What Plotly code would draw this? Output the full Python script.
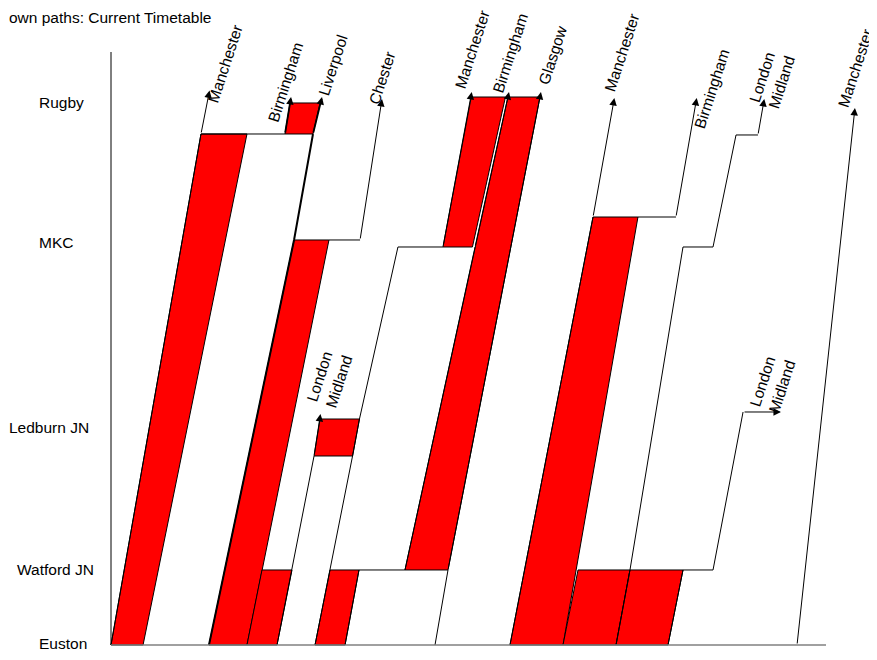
import plotly.graph_objects as go

# Standard-hour path diagram: t = minutes past the hour, d = schematic position (Euston 0 .. Rugby 100)
stations = ["Euston", "Watford JN", "Ledburn JN", "MKC", "Rugby"]
station_d = [0.36, 13.69, 39.78, 73.54, 98.91]

# ---- red (reserved) path blocks: corner times / positions ----
blk_man1_t = [0.00, 2.69, 11.41, 7.55]
blk_man1_d = [0, 0, 93.25, 93.25]
blk_birm1_t = [14.60, 16.95, 17.54, 15.02]
blk_birm1_d = [93.25, 93.25, 98.91, 98.91]
blk_liv_t = [8.22, 11.41, 18.29, 15.36]
blk_liv_d = [0, 0, 73.91, 73.91]
blk_lm1a_t = [11.41, 13.93, 15.19, 12.67]
blk_lm1a_d = [0, 0, 13.69, 13.69]
blk_lm1b_t = [17.04, 20.27, 20.85, 17.54]
blk_lm1b_d = [34.49, 34.49, 41.24, 41.24]
blk_man2a_t = [17.12, 19.64, 20.81, 18.38]
blk_man2a_d = [0, 0, 13.69, 13.69]
blk_man2b_t = [27.86, 30.33, 33.10, 30.23]
blk_man2b_d = [72.63, 72.63, 100, 100]
blk_glas_t = [24.67, 28.28, 36.00, 33.31]
blk_glas_d = [13.69, 13.69, 100, 100]
blk_man3_t = [33.48, 37.93, 44.22, 40.45]
blk_man3_d = [0, 0, 78.10, 78.10]
blk_lm2_t = [37.93, 42.38, 43.55, 39.19]
blk_lm2_d = [0, 0, 13.69, 13.69]
blk_lm3_t = [42.38, 46.74, 48.00, 43.55]
blk_lm3_d = [0, 0, 13.69, 13.69]

# ---- train lines: points, arrow tip ----
man1_t = [0.00, 7.55];  man1_d = [0, 93.25];  man1_tip = (8.27, 101.19)
birm1_t = [7.55, 14.60];  birm1_d = [93.25, 93.25];  birm1_tip = (15.11, 100.0)
liv_t = [8.22, 15.36, 16.95];  liv_d = [0, 73.91, 93.25];  liv_tip = (17.71, 100.0)
ches_t = [18.29, 20.90];  ches_d = [73.91, 73.91];  ches_tip = (22.74, 99.64)
lm1_t = [13.93, 15.19, 17.04];  lm1_d = [0, 13.69, 34.49];  lm1_tip = (17.58, 42.15)
man2_t = [17.12, 18.38, 20.27, 20.85, 24.08, 27.86]
man2_d = [0, 13.69, 34.49, 41.24, 72.63, 72.63];  man2_tip = (30.27, 100.91)
birm2_t = [19.64, 20.81, 24.67, 30.55];  birm2_d = [0, 13.69, 13.69, 72.63];  birm2_tip = (33.40, 100.91)
glas_t = [27.19, 28.28];  glas_d = [0, 13.69];  glas_tip = (36.08, 100.91)
man3_t = [33.48, 40.45];  man3_d = [0, 78.10];  man3_tip = (42.24, 99.82)
birm3_t = [44.22, 47.41];  birm3_d = [78.10, 78.10];  birm3_tip = (49.15, 99.82)
lm2_t = [42.38, 43.55, 48.00, 50.52, 52.45, 54.29]
lm2_d = [0, 13.69, 72.63, 72.63, 93.07, 93.07];  lm2_tip = (54.82, 99.64)
lm3_t = [46.74, 48.00, 50.52, 53.04];  lm3_d = [0, 13.69, 13.69, 42.52];  lm3_tip = (56.22, 42.52)
man4_t = [57.57];  man4_d = [0];  man4_tip = (62.43, 98.0)

blocks = [(blk_man1_t, blk_man1_d), (blk_birm1_t, blk_birm1_d), (blk_liv_t, blk_liv_d),
          (blk_lm1a_t, blk_lm1a_d), (blk_lm1b_t, blk_lm1b_d), (blk_man2a_t, blk_man2a_d),
          (blk_man2b_t, blk_man2b_d), (blk_glas_t, blk_glas_d), (blk_man3_t, blk_man3_d),
          (blk_lm2_t, blk_lm2_d), (blk_lm3_t, blk_lm3_d)]

# (t, d, tip, label, line width, arrow width, label shift px (x, y))
trains = [
    (man1_t, man1_d, man1_tip, "Manchester", 1, 1, (16, 26.5)),
    (birm1_t, birm1_d, birm1_tip, "Birmingham", 1, 1.8, (-5.2, 15.3)),
    (liv_t, liv_d, liv_tip, "Liverpool", 2, 1.8, (10.5, 32)),
    (ches_t, ches_d, ches_tip, "Chester", 1, 1, (-0.3, 20.7)),
    (lm1_t, lm1_d, lm1_tip, "London<br>Midland", 1, 1, (8.7, 35.7)),
    (man2_t, man2_d, man2_tip, "Manchester", 1, 1, (0.6, 42.3)),
    (birm2_t, birm2_d, birm2_tip, "Birmingham", 1, 1, (1, 38.7)),
    (glas_t, glas_d, glas_tip, "Glasgow", 1, 1, (11.3, 37)),
    (man3_t, man3_d, man3_tip, "Manchester", 1, 1, (7.4, 45.7)),
    (birm3_t, birm3_d, birm3_tip, "Birmingham", 1, 1, (15.6, 9)),
    (lm2_t, lm2_d, lm2_tip, "London<br>Midland", 1, 1, (8.2, 20)),
    (lm3_t, lm3_d, lm3_tip, "London<br>Midland", 1, 1, (-8.3, 28)),
    (man4_t, man4_d, man4_tip, "Manchester", 1, 1, (1.0, 40)),
]

FONT = "Liberation Sans, Arial, sans-serif"
fig = go.Figure()

for bt, bd in blocks:
    fig.add_trace(go.Scatter(x=bt + [bt[0]], y=bd + [bd[0]], mode="lines", fill="toself",
                             fillcolor="#FF0000", line=dict(color="black", width=1),
                             hoverinfo="skip", showlegend=False))

annotations = []
for t, d, tip, label, w, aw, (sx, sy) in trains:
    if len(t) > 1:
        fig.add_trace(go.Scatter(x=t, y=d, mode="lines", line=dict(color="black", width=w),
                                 hoverinfo="skip", showlegend=False))
    annotations.append(dict(x=tip[0], y=tip[1], ax=t[-1], ay=d[-1], xref="x", yref="y",
                            axref="x", ayref="y", text="", showarrow=True, arrowhead=2,
                            arrowsize=1.5 / aw, arrowwidth=aw, arrowcolor="black",
                            standoff=0))
    annotations.append(dict(x=tip[0], y=tip[1], xref="x", yref="y", xshift=sx, yshift=sy,
                            text=label, showarrow=False, textangle=-72, align="left",
                            xanchor="center", yanchor="middle",
                            font=dict(family=FONT, size=15.5, color="black")))

# axes drawn as lines
fig.add_trace(go.Scatter(x=[0, 0], y=[108.21, 0], mode="lines", line=dict(color="black", width=1),
                         hoverinfo="skip", showlegend=False))
fig.add_trace(go.Scatter(x=[0, 60], y=[0, 0], mode="lines", line=dict(color="#808080", width=1.3),
                         hoverinfo="skip", showlegend=False))

# page has an 8 px body margin: figure occupies page pixels 8..877 x 8..660
W, H, OFF = 869, 652, 8
label_px = [63, 55.5, 48.5, 55.5, 61]
for name, d, px in zip(stations, station_d, label_px):
    annotations.append(dict(x=(px - OFF) / W, y=d, xref="paper", yref="y", text=name, showarrow=False,
                            xanchor="center", yanchor="middle",
                            font=dict(family=FONT, size=15.5, color="black")))

annotations.append(dict(x=0, y=1, xref="paper", yref="paper", text="own paths: Current Timetable",
                        showarrow=False, xanchor="left", yanchor="top", borderpad=0,
                        font=dict(family=FONT, size=15.5, color="black")))

fig.update_layout(
    width=W, height=H, margin=dict(l=0, r=0, t=0, b=0, pad=0),
    paper_bgcolor="white", plot_bgcolor="white",
    xaxis=dict(range=[-8.6434, 64.2797], visible=False, fixedrange=True),
    yaxis=dict(range=[-2.7372, 116.2409], visible=False, fixedrange=True),
    annotations=annotations, showlegend=False,
)

fig.write_html("out.html")
